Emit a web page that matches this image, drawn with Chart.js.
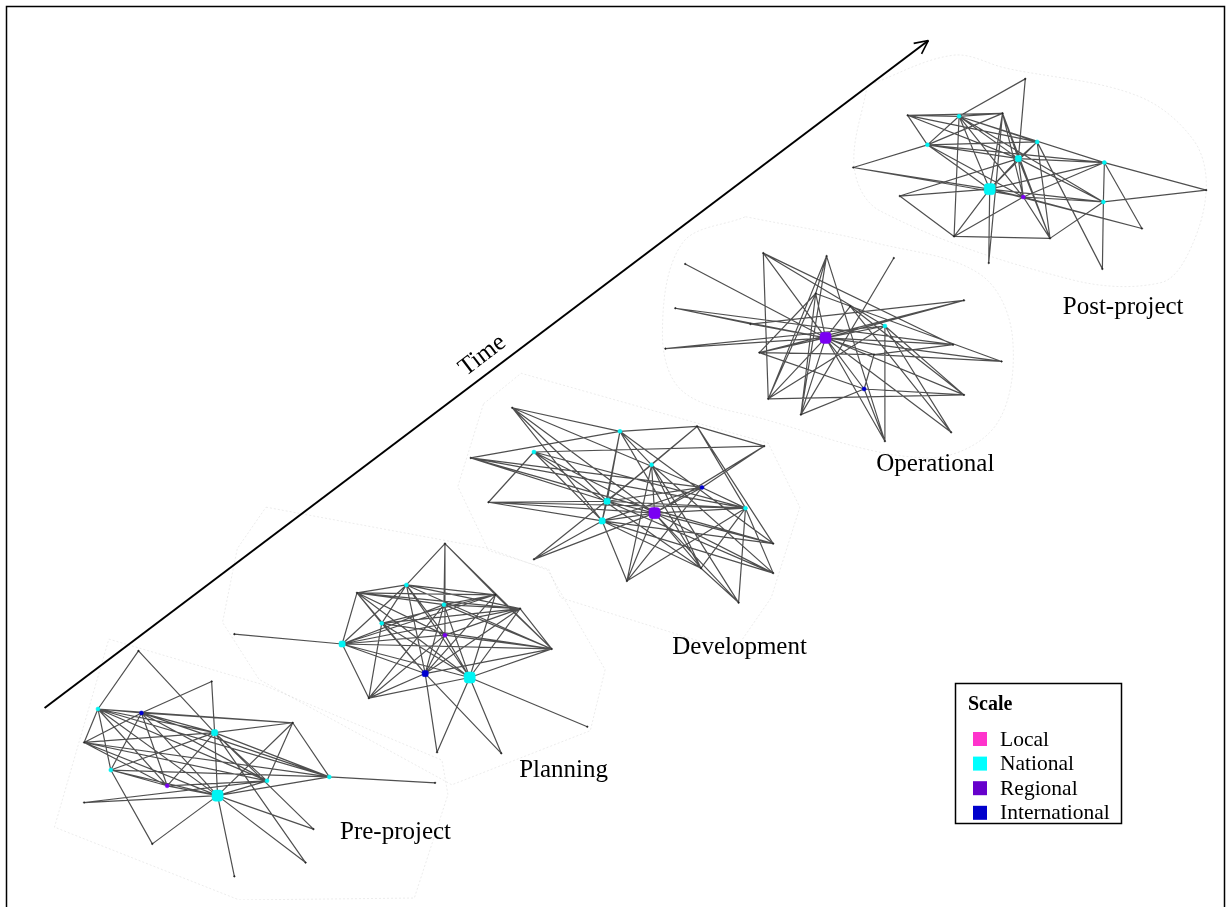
<!DOCTYPE html>
<html>
<head>
<meta charset="utf-8">
<script src="https://cdn.jsdelivr.net/npm/chart.js@4.4.0/dist/chart.umd.min.js"></script>
<style>
  html, body { margin: 0; padding: 0; background: #fff; overflow: hidden; }
  #wrap { position: relative; width: 1231px; height: 907px; }
</style>
</head>
<body>
<div id="wrap"><canvas id="c" width="1231" height="907"></canvas></div>
<script>
// Stakeholder networks at five project stages.
// Node rows: [x, y, scale, weight]; scale 0 = unclassified, 1 Local, 2 National, 3 Regional, 4 International.
const stageNames = ['Pre-project', 'Planning', 'Development', 'Operational', 'Post-project'];
const scaleNames = ['Local', 'National', 'Regional', 'International'];

const preNodes = [
  [133,654,0,0],[207,685,0,0],[92,713,2,1],[136,717,4,1],[210,737,2,2],[78,747,0,0],
  [105,775,2,1],[162,791,3,1],[213,801,2,3],[78,808,0,0],[147,850,0,0],[230,883,0,0],
  [289,727,0,0],[326,782,2,1],[433,788,0,0],[263,786,2,1],[310,835,0,0],[302,869,0,0]
];
const preEdges = [
  [0,2],[0,4],[1,3],[1,4],
  [2,3],[2,4],[2,5],[2,6],[2,7],[2,8],[2,12],[2,13],[2,15],
  [3,5],[3,6],[3,7],[3,8],[3,12],[3,4],[3,13],[3,15],
  [5,4],[5,7],[5,8],[5,13],[5,15],
  [6,4],[6,7],[6,8],[6,10],[6,13],
  [7,4],[7,8],[7,15],
  [8,4],[8,9],[8,10],[8,11],[8,12],[8,13],[8,16],[8,17],[8,15],
  [4,12],[4,13],[4,15],[4,16],[4,17],
  [13,14],[13,12],[9,15],[12,15]
];

const planNodes = [
  [230,637,0,0],[354,595,0,0],[404,587,2,1],[379,626,2,1],[339,647,2,2],[366,702,0,0],
  [443,545,0,0],[494,597,0,0],[442,607,2,1],[519,611,0,0],[551,652,0,0],[443,638,3,1],
  [423,677,4,2],[468,681,2,3],[587,731,0,0],[435,757,0,0],[500,758,0,0]
];
const planEdges = [
  [0,4],
  [4,1],[4,2],[4,7],[4,9],[4,10],[4,5],[4,12],[4,13],[4,11],[4,8],
  [1,2],[1,3],[1,7],[1,8],[1,11],[1,12],[1,13],[1,9],
  [6,2],[6,8],[6,10],[6,11],[6,7],
  [2,7],[2,9],[2,3],[2,11],[2,12],[2,13],[2,10],
  [3,7],[3,9],[3,10],[3,12],[3,13],
  [5,3],[5,8],[5,12],[5,13],[5,11],
  [7,8],[7,12],[7,13],[7,10],
  [8,9],[8,13],[8,12],[8,10],
  [9,11],[9,12],[9,13],[9,10],
  [10,12],[10,13],[10,11],
  [13,14],[13,15],[13,16],[12,15],[12,16],
  [11,12],[11,13]
];

const devNodes = [
  [511,407,0,0],[620,431,2,1],[533,452,2,1],[469,458,0,0],[487,503,0,0],[607,502,2,2],
  [602,522,2,2],[533,561,0,0],[627,583,0,0],[698,426,0,0],[766,446,0,0],[652,465,2,1],
  [703,488,4,1],[655,514,3,3],[747,509,2,1],[775,545,0,0],[702,570,0,0],[775,575,0,0],
  [740,605,0,0]
];
const devEdges = [
  [0,1],[0,5],[0,6],[0,12],[0,13],
  [1,9],[1,5],[1,6],[1,15],[1,16],[1,11],[1,3],
  [2,4],[2,14],[2,16],[2,13],[2,6],[2,10],
  [3,14],[3,12],[3,15],[3,5],
  [4,5],[4,13],[4,14],[4,6],
  [5,6],[5,9],[5,11],[5,12],[5,13],[5,17],[5,14],
  [6,7],[6,13],[6,15],[6,16],[6,17],[6,8],[6,12],
  [7,11],[7,13],
  [8,11],[8,13],[8,14],[8,12],
  [9,10],[9,11],[9,15],[9,14],
  [10,12],[10,13],
  [11,13],[11,16],[11,17],[11,18],
  [12,13],[12,14],
  [13,14],[13,15],[13,16],[13,17],[13,18],
  [14,16],[14,17],[14,18],
  [16,18]
];

const opNodes = [
  [765,250,0,0],[829,253,0,0],[686,261,0,0],[818,291,0,0],[676,306,0,0],[752,322,0,0],
  [828,336,3,3],[666,347,0,0],[761,351,0,0],[770,398,0,0],[803,414,0,0],[897,255,0,0],
  [853,304,0,0],[968,298,0,0],[888,324,2,1],[957,343,0,0],[877,353,0,0],[1006,360,0,0],
  [867,388,4,1],[968,394,0,0],[955,432,0,0],[888,441,0,0]
];
const opEdges = [
  [0,6],[0,15],[0,14],[0,9],
  [1,9],[1,10],[1,21],[1,3],
  [2,6],
  [4,6],[4,15],[4,5],
  [5,6],[5,13],
  [7,6],[7,14],
  [8,6],[8,16],[8,13],[8,3],[8,18],
  [9,6],[9,14],[9,3],[9,19],
  [10,6],[10,18],[10,3],
  [11,10],
  [6,12],[6,13],[6,15],[6,16],[6,17],[6,19],[6,20],[6,21],[6,18],[6,14],[6,3],
  [12,20],[12,19],
  [14,21],[14,19],[14,20],
  [16,18],[16,17],[16,15],
  [18,19],[18,21],[3,17]
];

const postNodes = [
  [1030,73,0,0],[911,110,0,0],[963,111,2,1],[1007,108,0,0],[931,140,2,1],[1023,154,2,2],
  [856,163,0,0],[994,185,2,3],[1028,193,3,1],[903,192,0,0],[958,233,0,0],[993,260,0,0],
  [1042,137,2,1],[1110,158,2,1],[1213,186,0,0],[1109,198,2,1],[1148,225,0,0],[1055,235,0,0],
  [1108,266,0,0]
];
const postEdges = [
  [0,2],[0,5],
  [1,2],[1,3],[1,4],[1,5],[1,12],
  [2,3],[2,4],[2,5],[2,7],[2,8],[2,12],[2,13],[2,10],[2,15],
  [3,4],[3,5],[3,7],[3,11],[3,8],[3,17],
  [4,5],[4,12],[4,13],[4,6],[4,8],[4,7],
  [6,7],[6,8],
  [9,7],[9,5],[9,10],
  [7,5],[7,8],[7,10],[7,11],[7,13],[7,15],[7,16],[7,12],
  [8,5],[8,10],[8,13],[8,15],[8,16],[8,17],
  [5,13],[5,15],[5,17],[5,12],
  [10,17],
  [12,17],[12,18],
  [13,14],[13,15],[13,16],
  [14,15],
  [15,18],[15,17]
];

// Outline of the area each stage occupies
const preHull  = [[103,642],[258,688],[440,765],[446,800],[412,905],[235,907],[48,833],[103,642]];
const planHull = [[262,508],[487,550],[547,572],[605,673],[590,735],[450,790],[255,683],[218,625],[233,550],[262,508]];
const devHull  = [[482,403],[520,372],[770,443],[802,508],[773,600],[735,655],[560,600],[548,571],[487,552],[456,487],[482,403]];
const opHull   = [[747,213],[880,240],[985,272],[1017,335],[1000,425],[930,458],[760,417],[683,390],[663,333],[683,240],[747,213]];
const postHull = [[870,80],[957,49],[1010,62],[1143,90],[1200,135],[1213,185],[1195,250],[1167,280],[1077,277],[883,207],[857,163],[870,80]];

// ---------------- layout and style ----------------
const W = 1231, H = 907;
const nodeColors  = ['#202020', '#ff33cc', '#00f4f4', '#7a00f2', '#0000d0'];
const swatchColors = ['#ff33cc', '#00ffff', '#6600cc', '#0000cc'];
const nodeRadius  = [0.8, 2.0, 3.6, 6.5];
const stageLabelAt = [[393,838],[563,775],[741,650],[939,465],[1129,305]];
const timeArrow = { from: [38, 712], to: [932, 34], label: 'Time', labelAt: [481, 354] };
const serif = '"Liberation Serif", "Times New Roman", serif';

const stages = [
  { nodes: preNodes,  edges: preEdges,  hull: preHull },
  { nodes: planNodes, edges: planEdges, hull: planHull },
  { nodes: devNodes,  edges: devEdges,  hull: devHull },
  { nodes: opNodes,   edges: opEdges,   hull: opHull },
  { nodes: postNodes, edges: postEdges, hull: postHull }
];

const pt = (p) => ({ x: p[0], y: p[1] });
const datasets = [];

// faint outlines first so everything else sits on top
stages.forEach((s, i) => {
  datasets.push({
    type: 'line', label: stageNames[i] + ' area',
    data: s.hull.map(pt),
    borderColor: 'rgba(120,120,120,0.2)', borderWidth: 0.7, borderDash: [2, 2],
    pointRadius: 0, fill: false, tension: i >= 3 ? 0.35 : 0, order: 5
  });
});

// ties between stakeholders, one polyline per stage broken by NaN gaps
stages.forEach((s, i) => {
  const pts = [];
  s.edges.forEach(([a, b]) => {
    pts.push(pt(s.nodes[a]), pt(s.nodes[b]), { x: NaN, y: NaN });
  });
  datasets.push({
    type: 'line', label: stageNames[i] + ' ties',
    data: pts, spanGaps: false,
    borderColor: 'rgba(35,35,35,0.8)', borderWidth: 1.2,
    pointRadius: 0, fill: false, tension: 0, order: 3
  });
});

// stakeholders
stages.forEach((s, i) => {
  datasets.push({
    type: 'scatter', label: stageNames[i] + ' actors',
    data: s.nodes.map(n => ({ x: n[0], y: n[1], s: n[2], w: n[3] })),
    pointRadius: (c) => nodeRadius[c.raw.w],
    pointStyle: (c) => (c.raw.s > 0 && c.raw.w >= 2 ? 'rectRounded' : 'circle'),
    pointBackgroundColor: (c) => nodeColors[c.raw.s],
    pointBorderColor: (c) => nodeColors[c.raw.s],
    pointBorderWidth: 0.5, order: 1
  });
});

// the time axis
datasets.push({
  type: 'line', label: 'time axis',
  data: [pt(timeArrow.from), pt(timeArrow.to)],
  borderColor: '#000', borderWidth: 2, pointRadius: 0, fill: false, order: 0
});

const decor = {
  id: 'decor',
  afterDatasetsDraw(chart) {
    const ctx = chart.ctx;
    const xs = chart.scales.x, ys = chart.scales.y;
    const px = (x) => xs.getPixelForValue(x), py = (y) => ys.getPixelForValue(y);
    ctx.save();

    // frame
    ctx.strokeStyle = '#000';
    ctx.lineWidth = 1.5;
    ctx.strokeRect(6.5, 6.5, W - 13, H + 20);

    // arrow head
    const fx = px(timeArrow.from[0]), fy = py(timeArrow.from[1]);
    const tx = px(timeArrow.to[0]), ty = py(timeArrow.to[1]);
    const ang = Math.atan2(ty - fy, tx - fx);
    ctx.lineWidth = 1.6;
    ctx.beginPath();
    [0.45, -0.45].forEach(d => {
      ctx.moveTo(tx, ty);
      ctx.lineTo(tx - 15 * Math.cos(ang + d), ty - 15 * Math.sin(ang + d));
    });
    ctx.stroke();

    // "Time" along the arrow
    ctx.fillStyle = '#000';
    ctx.font = '25px ' + serif;
    ctx.textAlign = 'center';
    ctx.textBaseline = 'middle';
    ctx.save();
    ctx.translate(px(timeArrow.labelAt[0]), py(timeArrow.labelAt[1]));
    ctx.rotate(ang);
    ctx.fillText(timeArrow.label, 0, 0);
    ctx.restore();

    // stage names
    stageNames.forEach((name, i) => {
      ctx.fillText(name, px(stageLabelAt[i][0]), py(stageLabelAt[i][1]));
    });

    // legend box
    const bx = 955.5, by = 683.5, bw = 166, bh = 140;
    ctx.fillStyle = '#fff';
    ctx.fillRect(bx, by, bw, bh);
    ctx.strokeStyle = '#000';
    ctx.lineWidth = 1.5;
    ctx.strokeRect(bx, by, bw, bh);
    ctx.fillStyle = '#000';
    ctx.textAlign = 'left';
    ctx.font = 'bold 20px ' + serif;
    ctx.fillText('Scale', 968, 705);
    ctx.font = '21.5px ' + serif;
    scaleNames.forEach((name, i) => {
      const cy = 739 + i * 24.6;
      ctx.fillStyle = swatchColors[i];
      ctx.fillRect(973, cy - 7, 14, 14);
      ctx.fillStyle = '#000';
      ctx.fillText(name, 1000, cy + 1);
    });
    ctx.restore();
  }
};

new Chart(document.getElementById('c'), {
  type: 'scatter',
  data: { datasets },
  options: {
    responsive: false,
    animation: false,
    events: [],
    layout: { padding: 0 },
    scales: {
      x: { type: 'linear', min: 0, max: W, display: false },
      y: { type: 'linear', min: 0, max: H, reverse: true, display: false }
    },
    plugins: { legend: { display: false }, tooltip: { enabled: false } }
  },
  plugins: [decor]
});
</script>
</body>
</html>
